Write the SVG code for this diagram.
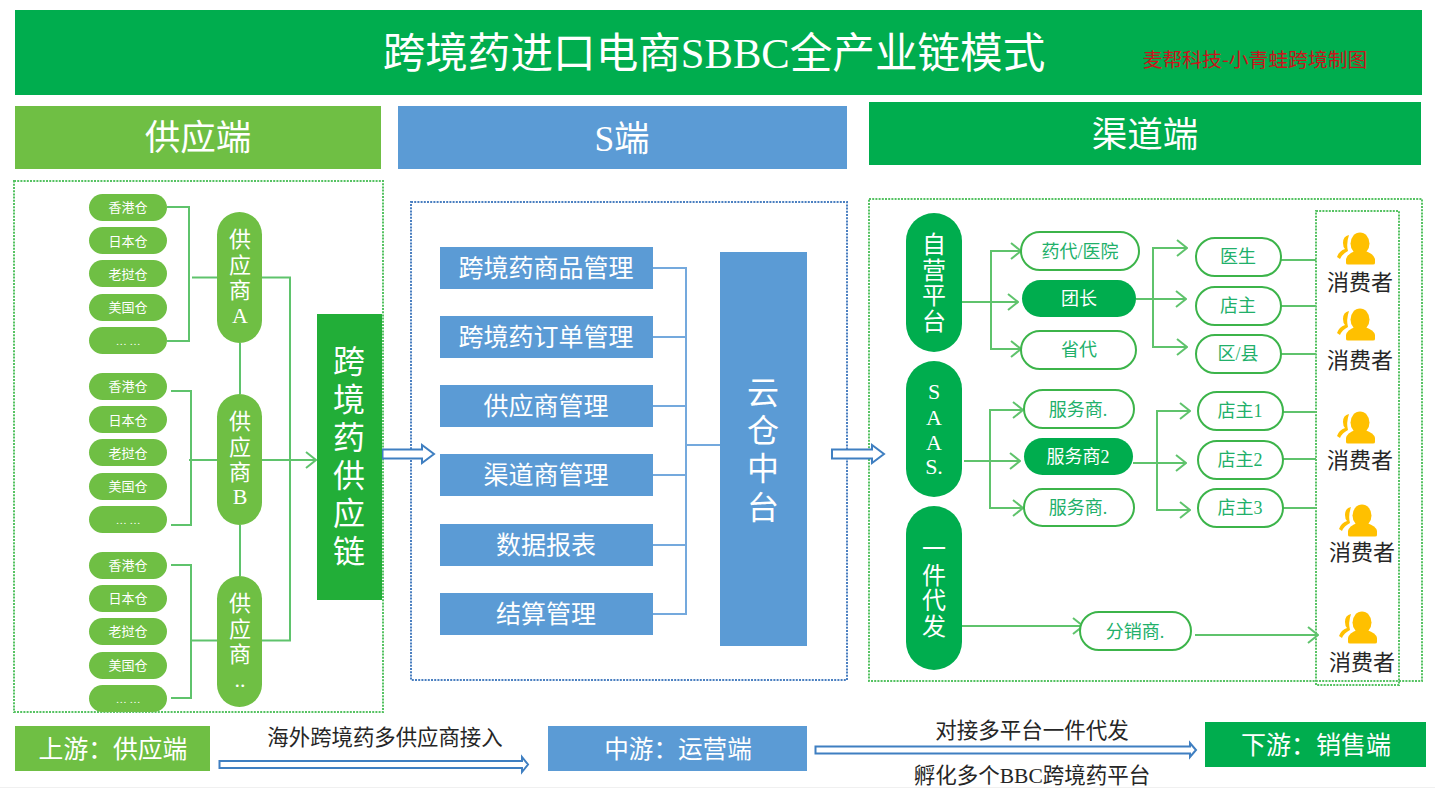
<svg xmlns="http://www.w3.org/2000/svg" width="1435" height="810" viewBox="0 0 1435 810">
<style>
text{font-family:"Liberation Serif","Noto Sans CJK SC",sans-serif;text-anchor:middle;font-weight:400}
.w{fill:#fff}
.lg{fill:#6fbf44}
.bl{fill:#5b9bd5}
.gr{fill:#00ad4e}
.k{fill:#262626}
.g{fill:#21b06a}
.o{fill:#fff;stroke:#3cb44a;stroke-width:2}
.dg{fill:none;stroke:#55c262;stroke-width:2;stroke-dasharray:2 1.2}
.db{fill:none;stroke:#4a7fc0;stroke-width:2;stroke-dasharray:2 1.2}
.cl{fill:none;stroke:#5fc36c;stroke-width:2}
.cb{fill:none;stroke:#74a9dd;stroke-width:2}
.ar{fill:#fff;stroke:#3f7fc1;stroke-width:2}
.s13{font-size:13px}.s17{font-size:18px}
.s22{font-size:22px}.s24{font-size:24px}.s25{font-size:25px}
</style>
<defs>
<marker id="a" markerUnits="userSpaceOnUse" markerWidth="14" markerHeight="20" refX="13" refY="10" orient="auto"><path d="M3 2 L13 10 L3 18" fill="none" stroke="#5fc36c" stroke-width="2"/></marker>
<symbol id="p" viewBox="0 0 40 33" width="40" height="33" overflow="visible">
<ellipse cx="23" cy="10.500" rx="9.500" ry="11" fill="#ffc000"/>
<path d="M9 30 V26 Q10 21 18 18 H28 Q37 21 38 26 V30 Q38 31.500 36 31.500 H11 Q9 31.500 9 30 Z" fill="#ffc000"/>
<path d="M12 2 Q6 3 6 10 Q6 14 8 16 Q2 18 0 24 L3 26 Q5 21 11 18 Q9 11 12 2Z" fill="#ffc000"/>
</symbol>
</defs>
<rect width="1435" height="810" fill="#fff"/>
<path d="M0 787.500H1435" stroke="#f0f0f0" stroke-width="1"/>

<g id="title"><rect x="15" y="10" width="1407" height="85" class="gr"/>
<text x="714" y="68" font-size="42.600" class="w">跨境药进口电商SBBC全产业链模式</text>
<text x="1255" y="67" font-size="19.800" fill="#c8141c" style="font-family:'Noto Sans CJK SC',sans-serif">麦帮科技-小青蛙跨境制图</text></g>

<g id="head-supply"><rect x="15" y="106" width="366" height="63" class="lg"/><text x="198" y="150" font-size="35.500" class="w">供应端</text></g>
<g id="head-s"><rect x="398" y="106" width="449" height="63" class="bl"/><text x="622" y="151" font-size="35.500" class="w">S端</text></g>
<g id="head-channel"><rect x="869" y="102" width="552" height="63" class="gr"/><text x="1145" y="147" font-size="35.500" class="w">渠道端</text></g>

<g id="frames">
<rect x="14" y="181" width="369" height="531" class="dg"/>
<rect x="411" y="202" width="436" height="478" class="db"/>
<rect x="869" y="199" width="553" height="482" class="dg"/>
<rect x="1316" y="211" width="83" height="474" class="dg"/>
</g>

<g id="connectors">
<path class="cl" d="M167 207H189V341H167"/>
<path class="cl" d="M192 277.500H217"/>
<path class="cl" d="M262 277.500H290V640.500H262"/>
<path class="cl" d="M240 343V394M240 525V576"/>
<path class="cl" d="M171 391H191V525H171"/>
<path class="cl" marker-end="url(#a)" d="M189 460H316"/>
<path class="cl" d="M171 565H191V698H171"/>
<path class="cl" d="M191 640.500H217"/>
<path class="cb" d="M653 268H686V614H653M653 337H686M653 406H686M653 475H686M653 545H686M686 445H720"/>
<path class="cl" marker-end="url(#a)" d="M962 302H1018"/>
<path class="cl" marker-end="url(#a)" d="M1021 251H991V349H1021"/>
<path class="cl" marker-end="url(#a)" d="M991 251H1021"/>
<path class="cl" marker-end="url(#a)" d="M1136 299H1186"/>
<path class="cl" marker-end="url(#a)" d="M1187 248H1153V347H1187"/>
<path class="cl" marker-end="url(#a)" d="M1153 248H1187"/>
<path class="cl" d="M1281 260H1316M1281 306H1316M1281 354H1316M1283 412H1316M1283 459H1316M1283 508H1316"/>
<path class="cl" marker-end="url(#a)" d="M964 461H1020"/>
<path class="cl" marker-end="url(#a)" d="M1023 410H990V508H1023"/>
<path class="cl" marker-end="url(#a)" d="M990 410H1023"/>
<path class="cl" marker-end="url(#a)" d="M1133 463H1186"/>
<path class="cl" marker-end="url(#a)" d="M1190 411H1157V510H1190"/>
<path class="cl" marker-end="url(#a)" d="M1157 411H1190"/>
<path class="cl" marker-end="url(#a)" d="M962 626H1083"/>
<path class="cl" marker-end="url(#a)" d="M1195 635H1318"/>
<path class="ar" d="M382.500 449.500H422V445L434 454L422 463V458.500H382.500Z"/>
<path class="ar" d="M832 449.500H872V445L884 454L872 463V458.500H832Z"/>
<path class="ar" d="M219.500 761H522V757L528 764.500L522 772V768H219.500Z"/>
<path class="ar" d="M815.500 746.500H1190V743L1196 750L1190 757V753.500H815.500Z"/>
</g>

<g id="wh-a">
<rect x="89" y="194" width="78" height="27" rx="13.500" class="lg"/><text x="128" y="212" class="w s13">香港仓</text>
<rect x="89" y="227" width="78" height="27" rx="13.500" class="lg"/><text x="128" y="246" class="w s13">日本仓</text>
<rect x="89" y="260" width="78" height="27" rx="13.500" class="lg"/><text x="128" y="279" class="w s13">老挝仓</text>
<rect x="89" y="294" width="78" height="27" rx="13.500" class="lg"/><text x="128" y="312" class="w s13">美国仓</text>
<rect x="89" y="327" width="78" height="27" rx="13.500" class="lg"/><text x="128" y="345" class="w" font-size="11">… …</text>
</g>
<g id="wh-b">
<rect x="89" y="373" width="78" height="27" rx="13.500" class="lg"/><text x="128" y="391" class="w s13">香港仓</text>
<rect x="89" y="406" width="78" height="27" rx="13.500" class="lg"/><text x="128" y="425" class="w s13">日本仓</text>
<rect x="89" y="439" width="78" height="27" rx="13.500" class="lg"/><text x="128" y="458" class="w s13">老挝仓</text>
<rect x="89" y="473" width="78" height="27" rx="13.500" class="lg"/><text x="128" y="491" class="w s13">美国仓</text>
<rect x="89" y="506" width="78" height="27" rx="13.500" class="lg"/><text x="128" y="524" class="w" font-size="11">… …</text>
</g>
<g id="wh-c">
<rect x="89" y="552" width="78" height="27" rx="13.500" class="lg"/><text x="128" y="570" class="w s13">香港仓</text>
<rect x="89" y="585" width="78" height="27" rx="13.500" class="lg"/><text x="128" y="603" class="w s13">日本仓</text>
<rect x="89" y="618" width="78" height="27" rx="13.500" class="lg"/><text x="128" y="636" class="w s13">老挝仓</text>
<rect x="89" y="652" width="78" height="27" rx="13.500" class="lg"/><text x="128" y="670" class="w s13">美国仓</text>
<rect x="89" y="685" width="78" height="27" rx="13.500" class="lg"/><text x="128" y="703" class="w" font-size="11">… …</text>
</g>

<g id="sup-a"><rect x="217" y="212" width="45" height="131" rx="22.500" class="lg"/><text class="w s22"><tspan x="240" y="247">供</tspan><tspan x="240" y="273">应</tspan><tspan x="240" y="298">商</tspan><tspan x="240" y="323">A</tspan></text></g>
<g id="sup-b"><rect x="217" y="394" width="45" height="131" rx="22.500" class="lg"/><text class="w s22"><tspan x="240" y="429">供</tspan><tspan x="240" y="455">应</tspan><tspan x="240" y="480">商</tspan><tspan x="240" y="504">B</tspan></text></g>
<g id="sup-c"><rect x="217" y="576" width="45" height="131" rx="22.500" class="lg"/><text class="w s22"><tspan x="240" y="611">供</tspan><tspan x="240" y="637">应</tspan><tspan x="240" y="662">商</tspan><tspan x="240" y="687">..</tspan></text></g>
<g id="chain"><rect x="317" y="314" width="65" height="286" fill="#22ae38"/><text class="w" font-size="32"><tspan x="349" y="373">跨</tspan><tspan x="349" y="411">境</tspan><tspan x="349" y="449">药</tspan><tspan x="349" y="487">供</tspan><tspan x="349" y="525">应</tspan><tspan x="349" y="563">链</tspan></text></g>

<g id="m1"><rect x="440" y="247" width="213" height="42" class="bl"/><text x="546" y="277" class="w s25">跨境药商品管理</text></g>
<g id="m2"><rect x="440" y="316" width="213" height="42" class="bl"/><text x="546" y="346" class="w s25">跨境药订单管理</text></g>
<g id="m3"><rect x="440" y="385" width="213" height="42" class="bl"/><text x="546" y="415" class="w s25">供应商管理</text></g>
<g id="m4"><rect x="440" y="454" width="213" height="42" class="bl"/><text x="546" y="484" class="w s25">渠道商管理</text></g>
<g id="m5"><rect x="440" y="524" width="213" height="42" class="bl"/><text x="546" y="554" class="w s25">数据报表</text></g>
<g id="m6"><rect x="440" y="593" width="213" height="42" class="bl"/><text x="546" y="623" class="w s25">结算管理</text></g>
<g id="cloud"><rect x="720" y="252" width="87" height="394" class="bl"/><text class="w" font-size="32"><tspan x="763" y="404">云</tspan><tspan x="763" y="442">仓</tspan><tspan x="763" y="480">中</tspan><tspan x="763" y="519">台</tspan></text></g>

<g id="self"><rect x="906" y="213" width="56" height="139" rx="28" class="gr"/><text class="w s24"><tspan x="934" y="253">自</tspan><tspan x="934" y="279">营</tspan><tspan x="934" y="304">平</tspan><tspan x="934" y="330">台</tspan></text></g>
<g id="saas"><rect x="906" y="361" width="56" height="136" rx="28" class="gr"/><text class="w s22"><tspan x="934" y="399">S</tspan><tspan x="934" y="425">A</tspan><tspan x="934" y="450">A</tspan><tspan x="934" y="474">S.</tspan></text></g>
<g id="dropship"><rect x="906" y="506" width="56" height="164" rx="28" class="gr"/><text class="w s24"><tspan x="934" y="557">一</tspan><tspan x="934" y="584">件</tspan><tspan x="934" y="609">代</tspan><tspan x="934" y="635">发</tspan></text></g>

<g id="n1"><rect x="1021" y="232" width="118" height="38" rx="19" class="o"/><text x="1080" y="258" class="g s17">药代/医院</text></g>
<g id="n2"><rect x="1022" y="280" width="114" height="37" rx="18.500" class="gr"/><text x="1079" y="305" class="w s17">团长</text></g>
<g id="n3"><rect x="1021" y="331" width="115" height="38" rx="19" class="o"/><text x="1079" y="356" class="g s17">省代</text></g>
<g id="n4"><rect x="1024" y="390" width="110" height="38" rx="19" class="o"/><text x="1078" y="416" class="g s17">服务商.</text></g>
<g id="n5"><rect x="1024" y="438" width="109" height="37" rx="18.500" class="gr"/><text x="1078" y="463" class="w s17">服务商2</text></g>
<g id="n6"><rect x="1024" y="489" width="110" height="37" rx="18.500" class="o"/><text x="1078" y="514" class="g s17">服务商.</text></g>
<g id="n7"><rect x="1196" y="238" width="85" height="38" rx="19" class="o"/><text x="1238" y="263" class="g s17">医生</text></g>
<g id="n8"><rect x="1196" y="287" width="85" height="38" rx="19" class="o"/><text x="1238" y="312" class="g s17">店主</text></g>
<g id="n9"><rect x="1196" y="335" width="85" height="38" rx="19" class="o"/><text x="1238" y="360" class="g s17">区/县</text></g>
<g id="n10"><rect x="1198" y="392" width="85" height="38" rx="19" class="o"/><text x="1240" y="417" class="g s17">店主1</text></g>
<g id="n11"><rect x="1198" y="441" width="85" height="38" rx="19" class="o"/><text x="1240" y="466" class="g s17">店主2</text></g>
<g id="n12"><rect x="1198" y="489" width="85" height="38" rx="19" class="o"/><text x="1240" y="514" class="g s17">店主3</text></g>
<g id="n13"><rect x="1080" y="612" width="111" height="38" rx="19" class="o"/><text x="1135" y="638" class="g s17">分销商.</text></g>

<g id="c1"><use href="#p" x="1337" y="233"/><text x="1360" y="290" class="k s22">消费者</text></g>
<g id="c2"><use href="#p" x="1337" y="309"/><text x="1360" y="368" class="k s22">消费者</text></g>
<g id="c3"><use href="#p" x="1337" y="412"/><text x="1360" y="468" class="k s22">消费者</text></g>
<g id="c4"><use href="#p" x="1339" y="505"/><text x="1362" y="560" class="k s22">消费者</text></g>
<g id="c5"><use href="#p" x="1339" y="612"/><text x="1362" y="670" class="k s22">消费者</text></g>

<g id="up"><rect x="15" y="726" width="195" height="45" class="lg"/><text x="113" y="758" font-size="24.800" class="w">上游：供应端</text></g>
<g id="mid"><rect x="548" y="726" width="259" height="45" class="bl"/><text x="678" y="758" font-size="24.600" class="w">中游：运营端</text></g>
<g id="down"><rect x="1205" y="722" width="221" height="45" class="gr"/><text x="1316" y="754" class="w" font-size="25">下游：销售端</text></g>
<g id="notes">
<text x="385" y="745" font-size="21.400" class="k">海外跨境药多供应商接入</text>
<text x="1032" y="738" font-size="21.500" class="k">对接多平台一件代发</text>
<text x="1032" y="783" font-size="21.500" class="k">孵化多个BBC跨境药平台</text>
</g>
</svg>
